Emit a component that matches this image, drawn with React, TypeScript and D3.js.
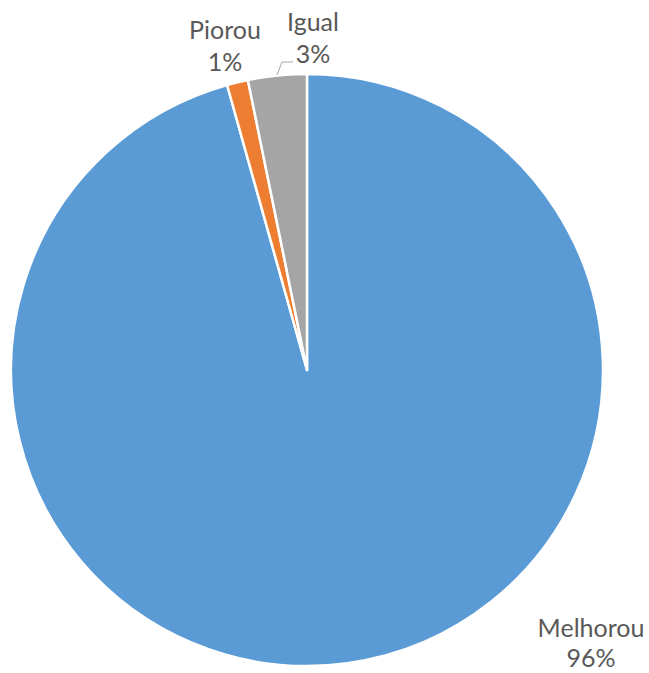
import React from "react";
import * as d3 from "d3";

const categories = ["Melhorou", "Piorou", "Igual"];
const values = [95.65, 1.15, 3.2];
const labels = ["96%", "1%", "3%"];
const colors = ["#5B9BD5", "#ED7D31", "#A5A5A5"];

const W = 649;
const H = 673;
const cx = 307;
const cy = 370;
const R = 296;

// label positions (center x, first-line baseline y, line gap)
const labelPos: [number, number, number][] = [
  [591, 637, 30],
  [225, 39, 32],
  [313, 31, 32],
];

export default function App() {
  const pie = d3.pie<number>().sort(null).value((d) => d)(values);
  const arc = d3.arc<d3.PieArcDatum<number>>().innerRadius(0).outerRadius(R);
  const font = "Lato, 'Open Sans', sans-serif";
  return (
    <svg
      width={W}
      height={H}
      style={{ position: "absolute", left: 0, top: 0, background: "#fff" }}
    >
      <g transform={`translate(${cx},${cy})`}>
        {pie.map((p, i) => (
          <path key={i} d={arc(p) || ""} fill={colors[i]} stroke="#fff" strokeWidth={2.5} strokeLinejoin="round" />
        ))}
      </g>
      <polyline
        points="277,75 282,62 293,62"
        fill="none"
        stroke="#A6A6A6"
        strokeWidth={1}
      />
      {categories.map((c, i) => (
        <text key={c} fill="#595959" fontFamily={font} fontSize={25} textAnchor="middle">
          <tspan x={labelPos[i][0]} y={labelPos[i][1]}>{c}</tspan>
          <tspan x={labelPos[i][0]} y={labelPos[i][1] + labelPos[i][2]}>{labels[i]}</tspan>
        </text>
      ))}
    </svg>
  );
}
